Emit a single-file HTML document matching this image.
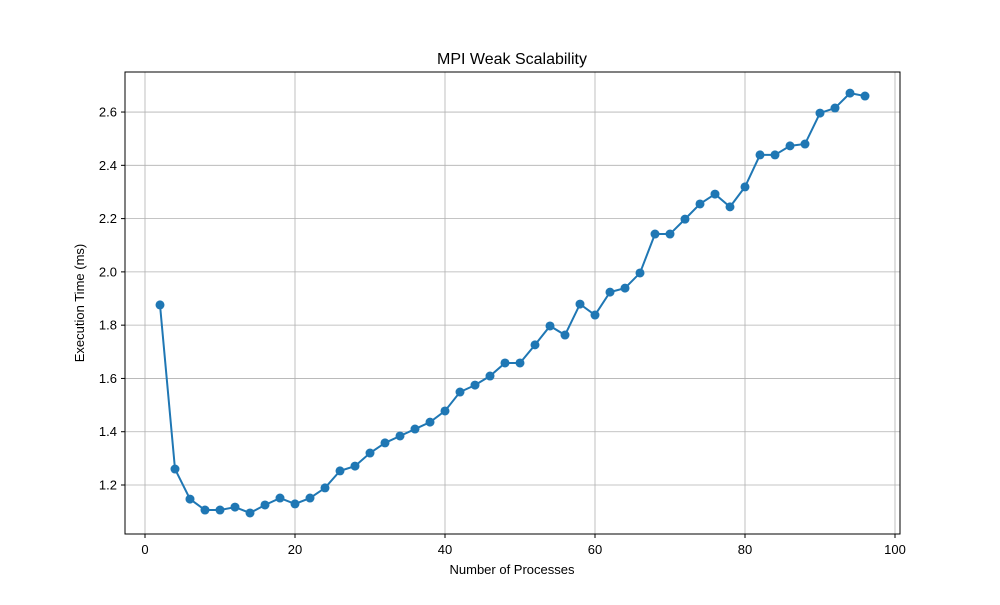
<!DOCTYPE html>
<html><head><meta charset="utf-8"><style>
body{margin:0;background:#fff;}
svg{font-family:"Liberation Sans","DejaVu Sans",sans-serif;}
</style></head><body>
<svg id="chart" width="1000" height="600" xmlns="http://www.w3.org/2000/svg">
<rect width="1000" height="600" fill="#fff"/>
<g id="grid"></g>
<g id="ticks"></g>
<g id="series"></g>
<rect x="125" y="72" width="775" height="462" fill="none" stroke="#000" stroke-width="1"/>
<text x="512" y="64" text-anchor="middle" font-size="16">MPI Weak Scalability</text>
<text x="512" y="574" text-anchor="middle" font-size="13">Number of Processes</text>
<text x="84" y="303" text-anchor="middle" font-size="13" transform="rotate(-90 84 303)">Execution Time (ms)</text>
</svg>
<script>
const processes=[2,4,6,8,10,12,14,16,18,20,22,24,26,28,30,32,34,36,38,40,42,44,46,48,50,52,54,56,58,60,62,64,66,68,70,72,74,76,78,80,82,84,86,88,90,92,94,96];
const times=[1.876,1.26,1.147,1.106,1.106,1.117,1.095,1.125,1.151,1.129,1.151,1.189,1.253,1.271,1.32,1.358,1.384,1.41,1.436,1.478,1.549,1.575,1.609,1.658,1.658,1.726,1.797,1.763,1.879,1.838,1.924,1.939,1.996,2.142,2.142,2.198,2.255,2.292,2.244,2.319,2.439,2.439,2.473,2.48,2.596,2.615,2.671,2.66];
const xTicks=[0,20,40,60,80,100];
const yTicks=[1.2,1.4,1.6,1.8,2.0,2.2,2.4,2.6];
const yTickLabels=["1.2","1.4","1.6","1.8","2.0","2.2","2.4","2.6"];
const NS="http://www.w3.org/2000/svg";
function xs(v){return 145+v*7.5;}
function ys(v){return 485-(v-1.2)*266.4;}
function mk(tag,attrs,parent){const e=document.createElementNS(NS,tag);for(const k in attrs)e.setAttribute(k,attrs[k]);parent.appendChild(e);return e;}
const grid=document.getElementById('grid'),ticks=document.getElementById('ticks'),series=document.getElementById('series');
xTicks.forEach(t=>{const x=xs(t);
 const g=mk('line',{x1:x,x2:x,y1:72,y2:534,stroke:'#b0b0b0','stroke-width':0.8},grid);
 
 
 mk('line',{x1:x,x2:x,y1:534,y2:538,stroke:'#000'},ticks);
 const l=mk('text',{x:x,y:554,'text-anchor':'middle','font-size':13},ticks);l.textContent=t;
 
 
});
yTicks.forEach((t,i)=>{const y=ys(t);
 const g=mk('line',{x1:125,x2:900,y1:y,y2:y,stroke:'#b0b0b0','stroke-width':0.8},grid);
 
 
 mk('line',{x1:121,x2:125,y1:y,y2:y,stroke:'#000'},ticks);
 const l=mk('text',{x:117,y:y+4.5,'text-anchor':'end','font-size':13},ticks);l.textContent=yTickLabels[i];
 
 
});
const pts=processes.map((p,i)=>xs(p)+','+ys(times[i])).join(' ');
const line=mk('polyline',{points:pts,fill:'none',stroke:'#1f77b4','stroke-width':2},series);


processes.forEach((p,i)=>{
 const c=mk('circle',{cx:xs(p),cy:ys(times[i]),r:4.5,fill:'#1f77b4'},series);
 
 
});
</script>
</body></html>
